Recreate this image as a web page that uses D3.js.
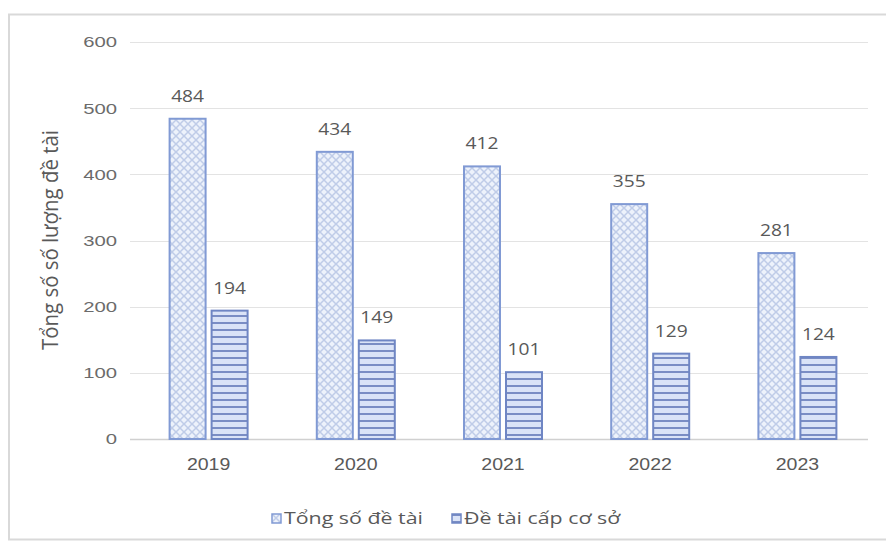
<!DOCTYPE html>
<html>
<head>
<meta charset="utf-8">
<script src="https://cdn.jsdelivr.net/npm/d3@7"></script>
<style>
  html, body { margin: 0; padding: 0; background: #fff; }
  svg { display: block; font-family: "Open Sans", "Noto Sans", sans-serif; }
</style>
</head>
<body>
<svg id="chart" width="886" height="542"></svg>
<script>
// Number of research projects per year
const years = ["2019", "2020", "2021", "2022", "2023"];
const totalProjects = [484, 434, 412, 355, 281];
const baseLevelProjects = [194, 149, 101, 129, 124];
const seriesNames = ["Tổng số đề tài", "Đề tài cấp cơ sở"];
const yTicks = [0, 100, 200, 300, 400, 500, 600];
const yTitle = "Tổng số số lượng đề tài";

const svg = d3.select("#chart");
const W = 886, H = 542;
const plot = { left: 135, right: 871, top: 42, bottom: 439 };

// Text in this chart is set slightly wide; stretch horizontally about its anchor
function wide(sel, sx) {
  sel.each(function () {
    const t = d3.select(this);
    const px = +t.attr("x") || 0, py = +t.attr("y") || 0;
    t.attr("transform", `translate(${px},${py}) scale(${sx},1) translate(${-px},${-py})`);
  });
}

// Outer frame of the chart area
svg.append("rect")
  .attr("x", 9).attr("y", 14.5)
  .attr("width", W + 10).attr("height", 525)
  .attr("fill", "#fff").attr("stroke", "#d9d9d9").attr("stroke-width", 2);

// Fill patterns
const defs = svg.append("defs");
const dots = defs.append("pattern")
  .attr("id", "pat-total").attr("patternUnits", "userSpaceOnUse")
  .attr("width", 8).attr("height", 8);
dots.append("rect").attr("width", 8).attr("height", 8).attr("fill", "#edf2fb");
dots.append("path").attr("d", "M0,0 L8,8 M8,0 L0,8")
  .attr("stroke", "#bfcce8").attr("stroke-width", 1.5);

const stripes = defs.append("pattern")
  .attr("id", "pat-base").attr("patternUnits", "userSpaceOnUse")
  .attr("width", 8).attr("height", 7);
stripes.append("rect").attr("width", 8).attr("height", 7).attr("fill", "#dae3f7");
stripes.append("rect").attr("y", 0).attr("width", 8).attr("height", 2).attr("fill", "#7a8dc4");

const x = d3.scaleBand().domain(years).range([plot.left, plot.right]).padding(0);
const y = d3.scaleLinear().domain([0, 600]).range([plot.bottom, plot.top]);

// Horizontal gridlines
svg.append("g").selectAll("line").data(yTicks).join("line")
  .attr("x1", 130).attr("x2", 868)
  .attr("y1", d => Math.round(y(d)) + 0.5).attr("y2", d => Math.round(y(d)) + 0.5)
  .attr("stroke", d => d === 0 ? "#d0d0d0" : "#e3e3e3").attr("stroke-width", d => d === 0 ? 1.5 : 1.2);

// Y axis tick labels
const yAxis = d3.axisLeft(y).tickValues(yTicks).tickSize(0).tickPadding(0);
const gy = svg.append("g").attr("transform", "translate(117,0)").call(yAxis);
gy.select(".domain").remove();
gy.selectAll("text")
  .attr("fill", "#6b6b6b").attr("font-size", 14)
  .attr("text-anchor", "end").attr("dy", "0.35em").attr("x", 0).attr("y", 0)
  .call(wide, 1.45);

// X axis category labels
const xAxis = d3.axisBottom(x).tickSize(0).tickPadding(0);
const gx = svg.append("g").attr("transform", `translate(0,${plot.bottom + 20})`).call(xAxis);
gx.select(".domain").remove();
gx.selectAll("text").attr("fill", "#595959").attr("font-size", 16).attr("dy", "0.71em")
  .attr("x", 0).attr("y", 0)
  .call(wide, 1.22);

// Bars
const barW = 36, gap = 6;

const series = [
  { values: totalProjects, fill: "url(#pat-total)", stroke: "#819ad4", offset: -(barW + gap / 2) },
  { values: baseLevelProjects, fill: "url(#pat-base)", stroke: "#6f86c4", offset: gap / 2 }
];

series.forEach(s => {
  svg.append("g").selectAll("rect").data(years).join("rect")
    .attr("x", (d) => x(d) + x.bandwidth() / 2 + s.offset)
    .attr("y", (d, i) => y(s.values[i]))
    .attr("width", barW)
    .attr("height", (d, i) => y(0) - y(s.values[i]))
    .attr("fill", s.fill).attr("stroke", s.stroke).attr("stroke-width", 2);

  svg.append("g").selectAll("text").data(years).join("text")
    .attr("x", (d) => x(d) + x.bandwidth() / 2 + s.offset + barW / 2)
    .attr("y", (d, i) => y(s.values[i]) - 17)
    .attr("text-anchor", "middle")
    .attr("fill", "#595959").attr("font-size", 16)
    .text((d, i) => s.values[i])
    .call(wide, 1.2);
});

// Y axis title
svg.append("text")
  .attr("transform", "translate(58,240) rotate(-90) scale(1.2,1.25)")
  .attr("text-anchor", "middle")
  .attr("fill", "#595959").attr("font-size", 17)
  .text(yTitle);

// Legend
const legendItems = [
  { name: seriesNames[0], fill: "url(#pat-total)", stroke: "#819ad4", x: 272 },
  { name: seriesNames[1], fill: "url(#pat-base)", stroke: "#6f86c4", x: 452 }
];
const lg = svg.append("g").selectAll("g").data(legendItems).join("g")
  .attr("transform", d => `translate(${d.x},514)`);
lg.append("rect").attr("width", 9).attr("height", 9)
  .attr("fill", d => d.fill).attr("stroke", d => d.stroke).attr("stroke-width", 1.5);
lg.append("text").attr("x", 12).attr("y", 4.5).attr("dy", "0.35em")
  .attr("fill", "#595959").attr("font-size", 15.5)
  .text(d => d.name)
  .call(wide, 1.38);
</script>
</body>
</html>
